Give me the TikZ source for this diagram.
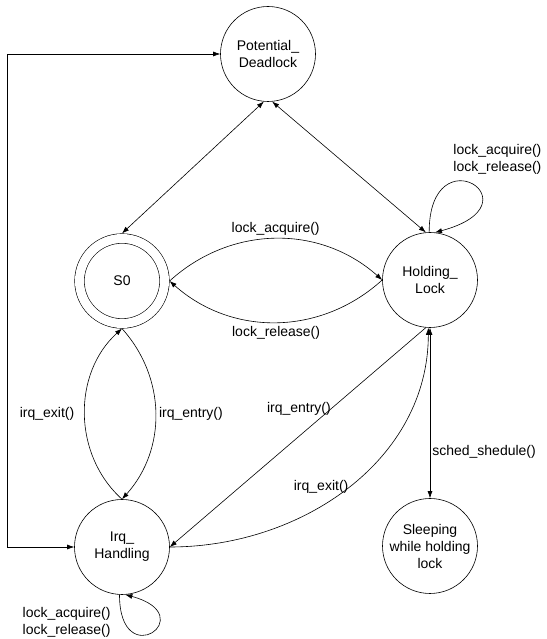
\documentclass[tikz,border=0pt]{standalone}
\usepackage{fontspec}
\setmainfont{Liberation Sans}
\usetikzlibrary{arrows.meta}

\begin{document}
\begin{tikzpicture}[x=1pt,y=1pt,line width=0.6pt,
  every node/.style={font=\fontsize{14}{17}\selectfont},
  state/.style={circle,draw,minimum size=95pt,inner sep=0pt,align=center},
  accepting/.style={double,double distance=9pt,minimum size=85pt,outer sep=5.1pt},
  >={Latex[length=7pt,width=5pt]}]
  \useasboundingbox (0,0) rectangle (546,639);

  \node[state] (pot) at (268,585) {Potential\_\\Deadlock};
  \node[state,accepting] (s0) at (122,358) {S0};
  \node[state] (hold) at (430,359) {Holding\_\\Lock};
  \node[state] (irq) at (122,92) {Irq\_\\Handling};
  \node[state,label={[align=center]center:Sleeping\\while holding\\lock}] (sleep) at (430,93) {};

  \draw[<->] (pot.-95) -- (s0.north);
  \draw[<->] (pot.-85) -- (hold.95);
  \draw[<->] (irq.west) -- ++(-66.5,0) |- (pot.west);

  \draw[->] (s0.east) to[bend left=42] node[above]{lock\_acquire()} (hold.west);
  \draw[->] (hold.west) to[bend left=42] node[below]{lock\_release()} (s0.east);
  \draw[->] (irq.north) to[bend left=48] node[left=7pt]{irq\_exit()} (s0.south);
  \draw[->] (s0.south) to[bend left=42] node[right]{irq\_entry()} (irq.north);

  \draw[->] (hold.-95) -- node[pos=0.37,left,inner sep=0pt]{irq\_entry()} (irq.east);
  \draw[->] (irq.east) to[out=0,in=-90] node[midway,left,inner sep=0pt]{irq\_exit()} (hold.-92);
  \draw[<->] (hold.south) -- node[pos=0.73,right,inner sep=2pt]{sched\_shedule()} (sleep.north);

  \draw[->] (hold.91) .. controls +(90:100) and +(15:110) .. (hold.84)
    node[pos=0.35,anchor=south west,inner sep=0pt,xshift=-3pt,yshift=6pt,align=left]{lock\_acquire()\\lock\_release()};
  \draw[->] (irq.-93) .. controls +(-90:80) and +(-15:80) .. (irq.-86)
    node[pos=0.04,anchor=north east,inner sep=3pt,xshift=-6pt,align=left]{lock\_acquire()\\lock\_release()};
\end{tikzpicture}
\end{document}
